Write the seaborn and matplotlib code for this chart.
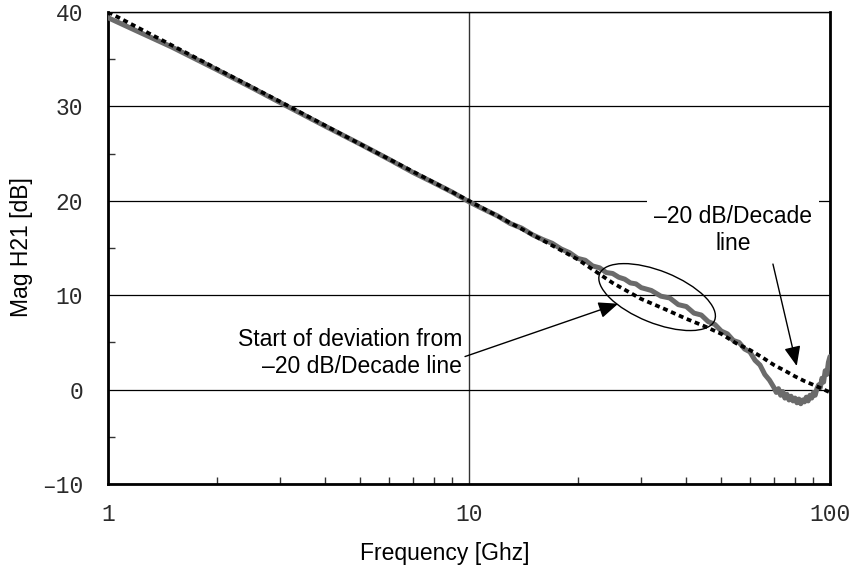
import matplotlib
matplotlib.use("Agg")
import matplotlib.pyplot as plt
import seaborn as sns
from matplotlib.patches import Ellipse
from matplotlib.transforms import ScaledTranslation
from matplotlib.ticker import FixedLocator, NullFormatter

GREY = "#6b6b6b"

# measured curve (grey)
meas_freq = [1, 1.2, 1.5, 2, 2.5, 3, 4, 5, 6, 7, 8, 9, 10, 11, 12, 13, 14, 15, 16, 17,
             18, 19, 20, 21, 22, 23, 24, 25, 26, 27, 28, 29, 30, 32, 34, 36, 38, 40, 42,
             44, 46, 48, 50, 52, 54, 56, 58, 60, 62, 64, 66, 68, 70, 71, 72, 73, 74, 75,
             76, 77, 78, 79, 80, 81, 82, 83, 84, 85, 86, 87, 88, 89, 90, 91, 92, 93, 94,
             95, 96, 97, 98, 99, 100]
meas_db = [39.4, 38.0, 36.3, 33.9, 32.0, 30.4, 27.9, 26.0, 24.4, 23.0, 21.9, 20.9, 19.9,
           19.1, 18.4, 17.6, 17.1, 16.4, 15.9, 15.5, 14.9, 14.5, 13.9, 13.7, 13.1, 12.9,
           12.4, 12.3, 11.9, 11.7, 11.3, 11.2, 10.8, 10.5, 9.9, 9.7, 9.0, 8.8, 8.1, 7.9,
           7.2, 6.9, 6.2, 5.9, 5.2, 5.0, 4.3, 4.0, 3.1, 2.6, 1.6, 1.0, 0.2, -0.3, 0.1,
           -0.6, -0.2, -0.9, -0.5, -1.1, -0.7, -1.2, -0.9, -1.4, -1.0, -1.5, -1.1, -1.3,
           -0.8, -1.2, -0.6, -0.9, -0.3, -0.6, 0.1, 0.5, 0.2, 1.2, 0.8, 2.0, 1.6, 2.9, 3.5]

# -20 dB/decade reference (dotted)
ref_freq = [1, 2, 3, 5, 7, 10, 15, 20, 25, 30, 35, 40, 45, 50, 55, 60, 65, 70, 75, 80,
            85, 90, 95, 100]
ref_db = [40.0, 34.0, 30.5, 26.0, 23.1, 20.0, 16.4, 13.8, 11.3, 9.6, 8.5, 7.5, 6.7, 5.9,
          4.9, 4.2, 3.4, 2.6, 2.0, 1.4, 0.9, 0.5, 0.1, -0.3]

x_ticks = [1, 10, 100]
x_tick_labels = ["1", "10", "100"]
y_ticks = [-10, 0, 10, 20, 30, 40]
y_tick_labels = ["\u201310", "0", "10", "20", "30", "40"]

sns.set_style("white")
plt.rcParams["font.family"] = ["Liberation Sans", "DejaVu Sans"]
plt.rcParams["font.size"] = 16.5
plt.rcParams["text.color"] = "black"
plt.rcParams["axes.labelcolor"] = "black"

fig = plt.figure(figsize=(8.51, 5.69), dpi=100)
ax = fig.add_axes([0.1269, 0.1494, 0.8484, 0.8295])

sns.lineplot(x=meas_freq, y=meas_db, ax=ax, color=GREY, lw=3.6, zorder=3)
sns.lineplot(x=ref_freq, y=ref_db, ax=ax, color="black", lw=2.7,
             linestyle=(0, (1.3, 1.0)), dash_capstyle="butt", zorder=4)

ax.set_xscale("log")
ax.set_xlim(1, 100)
ax.set_ylim(-10, 40)
ax.set_xticks(x_ticks, x_tick_labels)
ax.set_yticks(y_ticks, y_tick_labels)
ax.xaxis.set_minor_locator(FixedLocator([2, 3, 4, 5, 6, 7, 8, 9, 20, 30, 40, 50, 60, 70, 80, 90]))
ax.xaxis.set_minor_formatter(NullFormatter())
ax.yaxis.set_minor_locator(FixedLocator([-5, 5, 15, 25, 35]))

for lab in ax.get_xticklabels() + ax.get_yticklabels():
    lab.set_fontfamily(["Liberation Mono", "DejaVu Sans Mono"])
    lab.set_color("#2a2a2a")

ax.tick_params(axis="x", which="major", direction="in", length=6, width=1.5, pad=14)
ax.tick_params(axis="y", which="major", direction="in", length=6, width=1.5, pad=18)
ax.tick_params(which="minor", direction="in", length=5, width=1, color="#333333")
ax.tick_params(axis="y", which="minor", left=True)
ax.tick_params(axis="x", which="minor", bottom=True)

ax.grid(True, which="major", color="black", lw=0.9)
ax.xaxis.grid(True, which="major", color="#333333", lw=1.0)

for side, w in [("left", 2), ("bottom", 2), ("right", 2), ("top", 1)]:
    ax.spines[side].set_color("black")
    ax.spines[side].set_linewidth(w)
    ax.spines[side].set_visible(True)

ax.set_xlabel("Frequency [Ghz]")
ax.set_ylabel("Mag H21 [dB]")
ax.xaxis.set_label_coords(0.467, -0.122)
ax.yaxis.set_label_coords(-0.104, 0.502)

# ellipse around the deviation region
ell = Ellipse((0, 0), 1.24, 0.52, angle=-22, fill=False, ec="black", lw=1.0,
              transform=fig.dpi_scale_trans + ScaledTranslation(33.2, 9.8, ax.transData),
              zorder=5)
ax.add_patch(ell)

arrow = dict(arrowstyle="-|>,head_length=0.6,head_width=0.25", mutation_scale=20,
             color="black", lw=1.0, shrinkA=0, shrinkB=0)
ax.text(9.56, 3.9, "Start of deviation from\n\u201320 dB/Decade line", ha="right",
        va="center", multialignment="right", fontsize=16.5, zorder=6)
ax.annotate("", xy=(25.9, 9.1), xytext=(9.75, 3.5), arrowprops=arrow, zorder=6)

ax.text(53.9, 16.9, "\u201320 dB/Decade\nline", ha="center", va="center",
        multialignment="center", fontsize=16.5, zorder=6,
        bbox=dict(boxstyle="square,pad=0.3", fc="white", ec="none"))
ax.annotate("", xy=(80.9, 2.5), xytext=(69.5, 13.3), arrowprops=arrow, zorder=6)

fig.savefig("out.png", dpi=100)
